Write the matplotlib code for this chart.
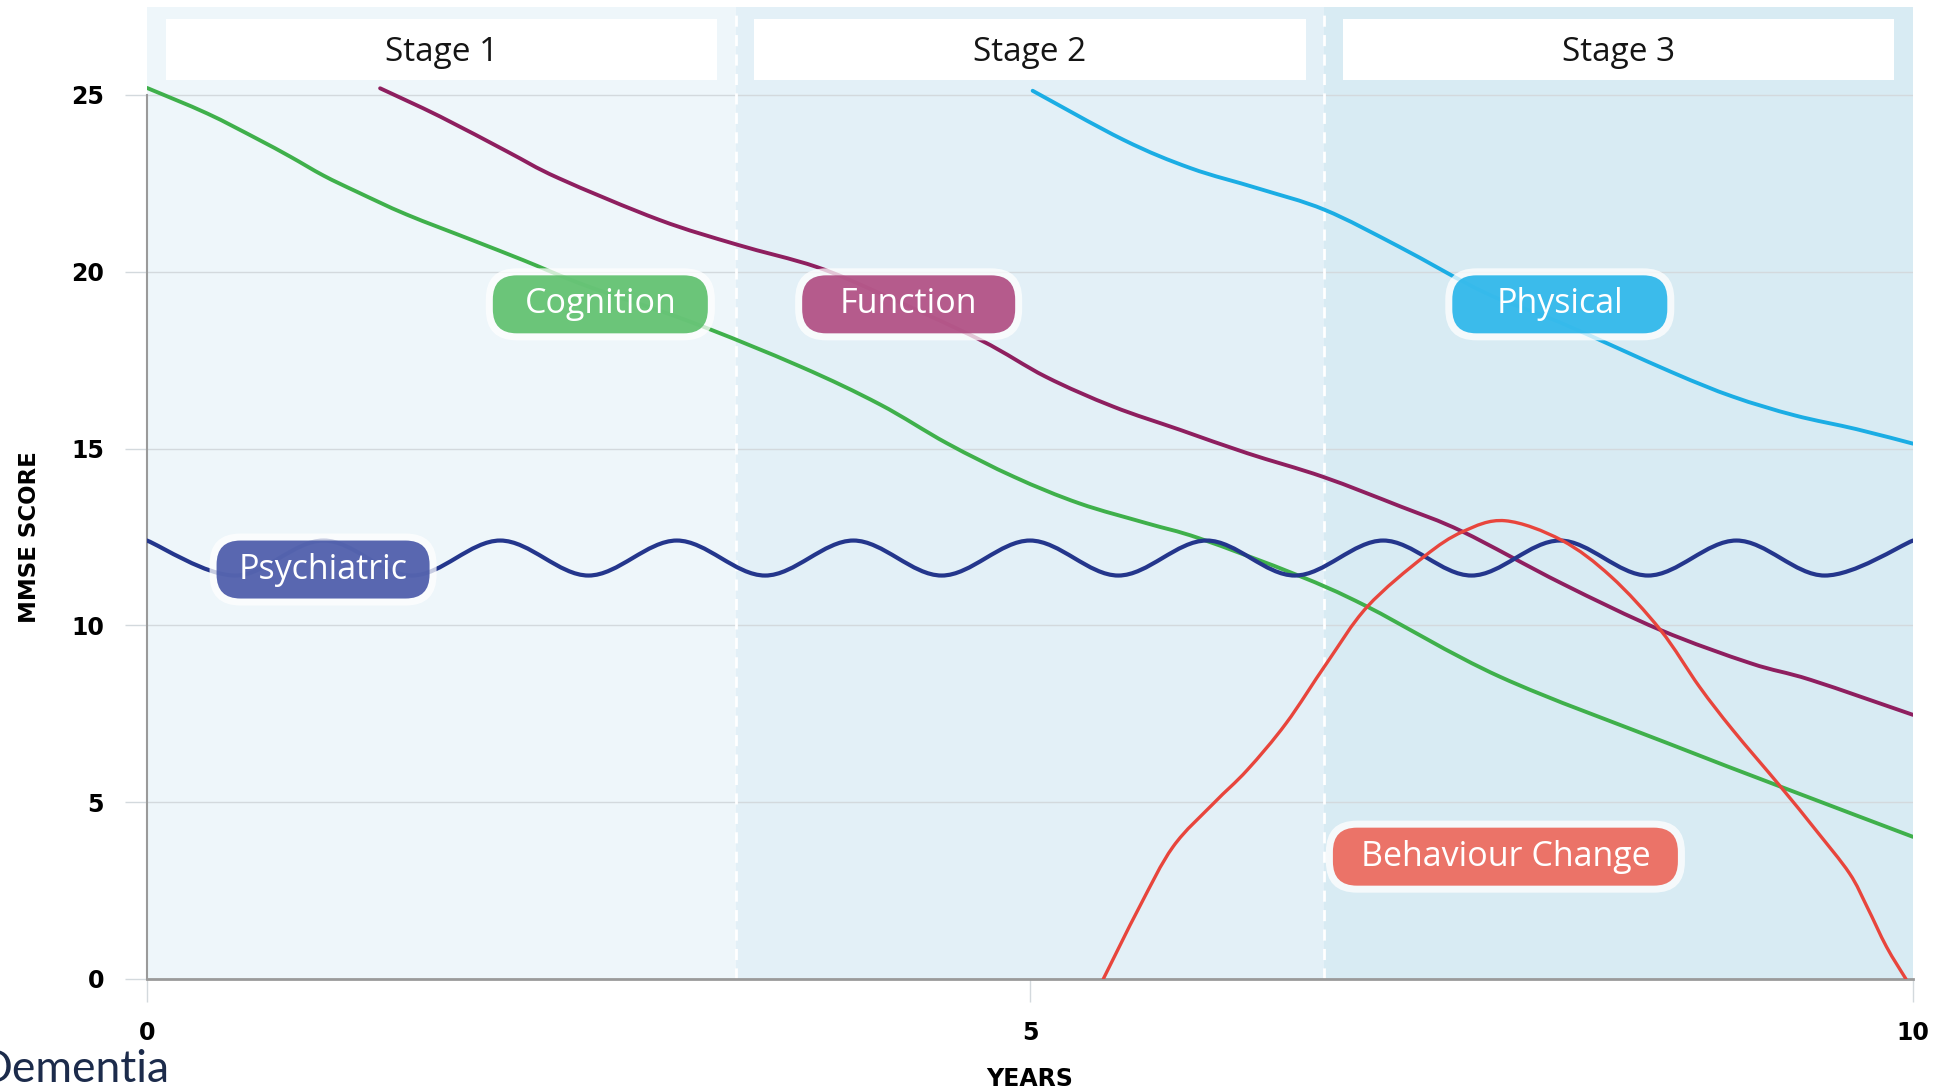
import numpy as np
import matplotlib.pyplot as plt
from matplotlib.path import Path
from matplotlib.patches import PathPatch, FancyBboxPatch, Rectangle
from matplotlib.transforms import blended_transform_factory

# values (years, MMSE score)
years_cognition = [0.0, 0.34, 0.62, 0.81, 1.0, 1.19, 1.47, 1.85, 2.13, 2.49, 3.07, 3.7, 4.15,
                   4.53, 4.91, 5.28, 5.66, 5.96, 6.51, 6.91, 7.66, 8.61, 9.25, 10.0]
cognition = [25.2, 24.48, 23.77, 23.26, 22.72, 22.26, 21.62, 20.88, 20.33, 19.6, 18.6, 17.32, 16.25,
             15.15, 14.2, 13.45, 12.89, 12.46, 11.43, 10.53, 8.55, 6.67, 5.44, 4.02]

years_function = [1.32, 1.66, 2.04, 2.33, 2.9, 3.34, 3.79, 4.15, 4.72, 5.09, 5.47, 5.85, 6.23,
                  6.66, 7.1, 7.45, 8.01, 8.57, 9.08, 9.42, 10.0]
function = [25.19, 24.39, 23.4, 22.65, 21.47, 20.77, 20.14, 19.39, 18.07, 17.03, 16.19, 15.53, 14.87,
            14.2, 13.36, 12.65, 11.19, 9.87, 8.93, 8.46, 7.47]

years_physical = [5.015, 5.53, 5.91, 6.29, 6.67, 7.09, 7.58, 8.0, 8.63, 8.98, 9.33, 9.68, 10.0]
physical = [25.12, 23.73, 22.93, 22.36, 21.75, 20.71, 19.4, 18.57, 17.17, 16.47, 15.94, 15.55, 15.14]

years_psychiatric = [0.0, 0.5, 1.0, 1.5, 2.0, 2.5, 3.0, 3.5, 4.0, 4.5, 5.0,
                     5.5, 6.0, 6.5, 7.0, 7.5, 8.0, 8.5, 9.0, 9.5, 10.0]
psychiatric = [12.4, 11.41, 12.4, 11.41, 12.4, 11.41, 12.4, 11.41, 12.4, 11.41, 12.4,
               11.41, 12.4, 11.41, 12.4, 11.41, 12.4, 11.41, 12.4, 11.41, 12.4]

years_behaviour = [5.415, 5.62, 5.81, 6.04, 6.23, 6.45, 6.68, 6.91, 7.23, 7.45, 7.69,
                   8.01, 8.29, 8.57, 8.79, 8.98, 9.25, 9.45, 9.64, 9.74, 9.85, 9.96]
behaviour = [0.0, 2.04, 3.74, 4.97, 5.91, 7.23, 8.93, 10.53, 11.94, 12.65, 12.96,
             12.41, 11.38, 9.87, 8.27, 7.04, 5.44, 4.21, 2.99, 2.04, 0.91, 0.0]

stage_names = ["Stage 1", "Stage 2", "Stage 3"]
stage_edges = [0, 10 / 3, 20 / 3, 10]
x_ticks = [0, 5, 10]
y_ticks = [0, 5, 10, 15, 20, 25]

# label name, centre x, centre y, colour, box width px
labels = [
    ("Cognition", 2.567, 19.08, "#5bbf6b", 215),
    ("Function", 4.313, 19.08, "#ae4a80", 213),
    ("Physical", 8.0, 19.08, "#27b5ea", 215),
    ("Psychiatric", 0.997, 11.58, "#4757a8", 213),
    ("Behaviour Change", 7.692, 3.46, "#ea6558", 345),
]

W, H = 1941, 1090
fig = plt.figure(figsize=(W / 100, H / 100), dpi=100)
ax = fig.add_axes([147 / W, 1 - 979 / H, (1913 - 147) / W, (979 - 7) / H])
ymax = 25 * 972 / 884
ax.set_xlim(0, 10)
ax.set_ylim(0, ymax)

band_colors = ["#eef6fa", "#e3f0f7", "#d8ebf3"]
for i in range(3):
    ax.axvspan(stage_edges[i], stage_edges[i + 1], color=band_colors[i], zorder=0, lw=0)
    # white header box
    ax.add_patch(Rectangle((stage_edges[i] + 0.105, 25.42), stage_edges[i + 1] - stage_edges[i] - 0.21, 1.73,
                           facecolor="white", edgecolor="none", zorder=2))
    ax.text((stage_edges[i] + stage_edges[i + 1]) / 2, 26.2, stage_names[i], ha="center", va="center",
            fontsize=24, family="Open Sans", color="#151515", zorder=3)
for e in stage_edges[1:3]:
    ax.plot([e, e], [0, ymax], color="white", lw=2, ls=(0, (4, 3)), zorder=1)

ax.set_yticks(y_ticks)
ax.set_xticks(x_ticks)
ax.set_yticklabels([str(v) for v in y_ticks], fontsize=17, fontweight="bold", family="DejaVu Sans")
ax.set_xticklabels([str(v) for v in x_ticks], fontsize=17, fontweight="bold", family="DejaVu Sans")
ax.tick_params(axis="y", length=16, width=1, color="#d3d9dd", pad=15)
ax.tick_params(axis="x", length=16.5, width=1, color="#d3d9dd", pad=14)
ax.yaxis.grid(True, color="#d3d9dd", lw=1, zorder=0.5)
ax.set_axisbelow(True)
for s in ["top", "right"]:
    ax.spines[s].set_visible(False)
ax.spines["left"].set_bounds(0, 25)
ax.spines["left"].set_color("#9a9a9a")
ax.spines["left"].set_linewidth(1.5)
ax.spines["bottom"].set_color("#9a9a9a")
ax.spines["bottom"].set_linewidth(2)
ax.spines["left"].set_zorder(2.5)
ax.spines["bottom"].set_zorder(2.5)

ax.text(-0.0668, 12.5, "MMSE SCORE", rotation=90, ha="center", va="center", fontsize=16.5,
        fontweight="bold", transform=blended_transform_factory(ax.transAxes, ax.transData))
ax.text(5, -0.103, "YEARS", ha="center", va="center", fontsize=17, fontweight="bold",
        transform=blended_transform_factory(ax.transData, ax.transAxes))
fig.text(170 / W, 1 - 1082 / H, "Dementia", ha="right", va="baseline", fontsize=32,
         family="Lato", color="#1c2b4b")


def smooth_path(xs, ys):
    pts = np.column_stack([xs, ys]).astype(float)
    n = len(pts)
    verts = [pts[0]]
    codes = [Path.MOVETO]
    for i in range(n - 1):
        p0 = pts[i - 1] if i > 0 else pts[i]
        p1 = pts[i]
        p2 = pts[i + 1]
        p3 = pts[i + 2] if i + 2 < n else pts[i + 1]
        verts += [p1 + (p2 - p0) / 6, p2 - (p3 - p1) / 6, p2]
        codes += [Path.CURVE4] * 3
    return Path(verts, codes)


series = [
    (years_cognition, cognition, "#3fb04b", 2.8),
    (years_function, function, "#8e1f5f", 2.8),
    (years_physical, physical, "#1badE4", 2.8),
    (years_psychiatric, psychiatric, "#24368c", 3.0),
    (years_behaviour, behaviour, "#e8453c", 2.4),
]
for xs, ys, col, lw in series:
    ax.add_patch(PathPatch(smooth_path(xs, ys), facecolor="none", edgecolor=col, lw=lw,
                           zorder=3, capstyle="round", joinstyle="round"))

# pill labels sized in pixels
p0 = ax.transData.transform((0, 0))
p1 = ax.transData.transform((1, 1))
ppx, ppy = p1[0] - p0[0], p1[1] - p0[1]
box_h = 58
halo = 7
for name, xc, yc, col, bw in labels:
    for extra, fc, a, z, r in [(halo, "white", 0.75, 4, 31), (0, col, 0.9, 5, 24)]:
        w = (bw + 2 * extra) / ppx
        h = (box_h + 2 * extra) / ppy
        ax.add_patch(FancyBboxPatch((xc - w / 2, yc - h / 2), w, h,
                                    boxstyle="round,pad=0,rounding_size=%f" % (r / ppx),
                                    mutation_aspect=ppx / ppy, facecolor=fc, edgecolor="none",
                                    alpha=a, zorder=z))
    ax.text(xc, yc, name, ha="center", va="center", color="white", fontsize=24.5,
            family="Open Sans", zorder=6)

fig.savefig("out.png", dpi=100)
